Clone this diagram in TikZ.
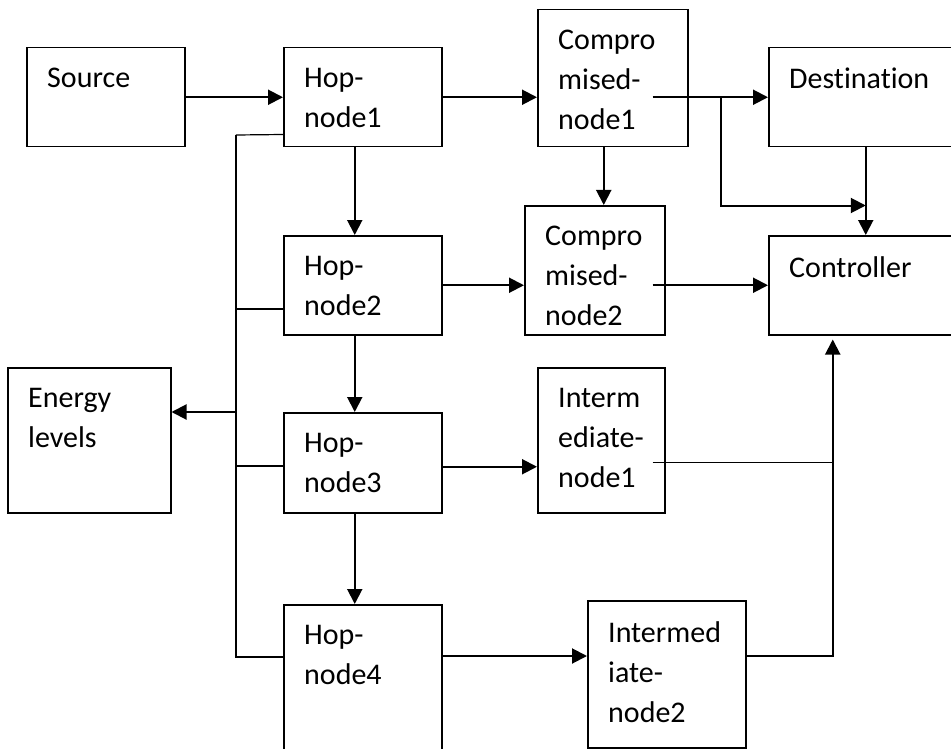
\documentclass[tikz,border=0pt]{standalone}
\usepackage{fontspec}
\setmainfont{Carlito}[Ligatures=NoCommon]
\usetikzlibrary{arrows.meta}
\tikzset{
  blk/.style={draw, line width=1.5pt, anchor=north west, inner sep=0pt},
  txt/.style={anchor=north west, align=left, inner sep=0pt, xshift=21pt, yshift=-21pt,
    font=\fontsize{30}{40}\selectfont},
  arr/.style={line width=2pt, -{Triangle[length=15pt,width=15pt]}},
  bus/.style={line width=1.2pt}
}
\begin{document}
\begin{tikzpicture}
[x=1pt, y=-1pt, color=black]
\useasboundingbox (0,0) rectangle (951,749);
\clip (0,0) rectangle (951,749);
  % boxes
  \node[blk, minimum width=158pt, minimum height=99pt, label={[txt]north west:Source}] (src) at (26,47) {};
  \node[blk, minimum width=158pt, minimum height=99pt, label={[txt]north west:{Hop-\\node1}}] (h1) at (283,47) {};
  \node[blk, minimum width=158pt, minimum height=99pt, label={[txt]north west:{Hop-\\node2}}] (h2) at (283,235) {};
  \node[blk, minimum width=158pt, minimum height=100pt, label={[txt]north west:{Hop-\\node3}}] (h3) at (283,412) {};
  \node[blk, minimum width=158pt, minimum height=200pt, label={[txt]north west:{Hop-\\node4}}] (h4) at (283,604) {};
  \node[blk, minimum width=150pt, minimum height=137pt, label={[txt]north west:{Compro\\mised-\\node1}}] (c1) at (537,9) {};
  \node[blk, minimum width=140pt, minimum height=129pt, label={[txt]north west:{Compro\\mised-\\node2}}] (c2) at (524,205) {};
  \node[blk, minimum width=194pt, minimum height=99pt, label={[txt]north west:Destination}] (dst) at (768,47) {};
  \node[blk, minimum width=194pt, minimum height=99pt, label={[txt]north west:Controller}] (ctl) at (768,235) {};
  \node[blk, minimum width=163pt, minimum height=145pt, label={[txt]north west:{Energy\\levels}}] (en) at (7,367) {};
  \node[blk, minimum width=127pt, minimum height=145pt, label={[txt]north west:{Interm\\ediate-\\node1}}] (i1) at (537,367) {};
  \node[blk, minimum width=158pt, minimum height=147pt, label={[txt]north west:{Intermed\\iate-\\node2}}] (i2) at (587,600) {};

  % helper points
  \path (c1.east |- h1.east) ++(-36,0) coordinate (c1out);
  \path (c1out) ++(68,0) coordinate (fork);
  \path (dst.south) ++(0,58) coordinate (join);
  \path (c1.south) ++(-9,0) coordinate (c1s);
  \path (c2.east |- ctl.west) ++(-13,0) coordinate (c2out);
  \path (h3.east) ++(0,4) coordinate (h3out);
  \path (i1.east |- h3.east) ++(-13,0) coordinate (i1out);
  \path (h4.north east) ++(0,52) coordinate (h4out);
  \path (ctl.south) ++(-33,4) coordinate (rbus);
  \coordinate (lbus) at (236,135);

  % arrows
  \draw[arr] (src) -- (h1);
  \draw[arr] (h1) -- (h1 -| c1.west);
  \draw[arr] (c1out) -- (dst);
  \draw[arr] (fork) |- (join);
  \draw[arr] (dst) -- (ctl);
  \draw[arr] (c1s) -- (c1s |- c2.north);
  \draw[arr] (h2) -- (h2 -| c2.west);
  \draw[arr] (c2out) -- (ctl);
  \draw[arr] (h3out) -- (h3out -| i1.west);
  \draw[arr] (h4out) -- (h4out -| i2.west);
  \foreach \a/\b in {h1/h2,h2/h3,h3/h4}
  \draw[arr] ([xshift=-8pt]\a.south) -- ([xshift=-8pt]\b.north);
  \draw[arr] (h4out -| i2.east) -| (rbus);
  \draw[bus] (i1out) -- (i1out -| rbus);
  % energy bus
  \draw[bus] ([yshift=13pt]h1.south west) -- (lbus);
  \foreach \n/\d in {h2/74,h3/54,h4/53}
  \draw[bus] ([yshift=-\d pt]\n.north west) -| (lbus);
  \draw[arr] (h3.north -| lbus) -- (h3.north -| en.east);
\end{tikzpicture}
\end{document}
